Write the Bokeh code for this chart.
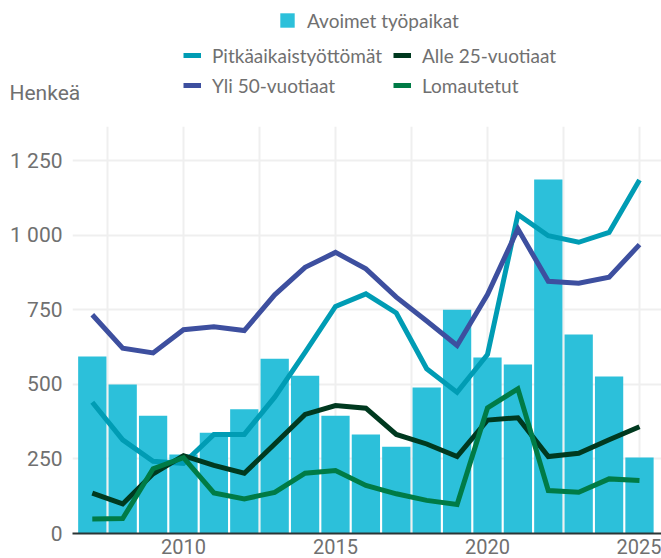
from bokeh.plotting import figure
from bokeh.models import Range1d, FixedTicker, Legend, LegendItem, Label
from bokeh.embed import file_html
from bokeh.resources import INLINE

# ---- data ----
years = list(range(2007, 2026))
avoimet = [593, 499, 395, 265, 338, 416, 586, 529, 395, 332, 291, 489, 750, 590, 566, 1186, 667, 526, 255]
pitka = [440, 314, 242, 235, 332, 332, 457, 607, 761, 803, 739, 552, 473, 600, 1069, 998, 976, 1009, 1185]
alle25 = [135, 99, 200, 261, 228, 202, 300, 399, 429, 420, 332, 300, 258, 380, 388, 258, 269, 314, 358]
yli50 = [733, 621, 605, 683, 693, 680, 800, 892, 942, 887, 792, 712, 630, 801, 1021, 845, 839, 859, 968]
loma = [49, 50, 217, 254, 136, 116, 138, 202, 211, 161, 133, 111, 97, 421, 485, 144, 138, 183, 178]

y_ticks = [0, 250, 500, 750, 1000, 1250]
y_tick_labels = ["0", "250", "500", "750", "1 000", "1 250"]
x_ticks = [2010, 2015, 2020, 2025]
x_tick_labels = ["2010", "2015", "2020", "2025"]
x_grid = [2007.5, 2010, 2012.5, 2015, 2017.5, 2020, 2022.5, 2025]

names = ["Avoimet työpaikat", "Pitkäaikaistyöttömät", "Alle 25-vuotiaat", "Yli 50-vuotiaat", "Lomautetut"]
y_label = "Henkeä"

C_BAR = "#2CC0DA"
C_PITKA = "#009CB4"
C_ALLE = "#00391F"
C_YLI = "#3D4F9F"
C_LOMA = "#007B46"
TXT = "#707070"
W = 661
HEAD_H = 126
MAIN_H = 558 - HEAD_H

series = [(pitka, C_PITKA), (alle25, C_ALLE), (yli50, C_YLI), (loma, C_LOMA)]
common = dict(line_width=5, line_join="miter")

# ---- main chart ----
p = figure(width=W, height=MAIN_H, output_backend="svg", toolbar_location=None,
           x_range=Range1d(2006.349, 2025.724), y_range=Range1d(0, 1364),
           min_border_left=72, min_border_right=0, min_border_top=0, min_border_bottom=25)
p.outline_line_color = None

p.vbar(x=years, top=avoimet, width=0.93, fill_color=C_BAR, line_color=None)
for vals, col in series:
    p.line(years, vals, line_color=col, **common)

p.xaxis.ticker = FixedTicker(ticks=x_ticks)
p.xaxis.major_label_overrides = dict(zip(x_ticks, x_tick_labels))
p.yaxis.ticker = FixedTicker(ticks=y_ticks)
p.yaxis.major_label_overrides = dict(zip(y_ticks, y_tick_labels))
for ax in (p.xaxis[0], p.yaxis[0]):
    ax.major_tick_line_color = None
    ax.minor_tick_line_color = None
    ax.major_tick_out = 0
    ax.major_tick_in = 0
    ax.minor_tick_out = 0
    ax.minor_tick_in = 0
    ax.major_label_text_font = "Roboto"
    ax.major_label_text_color = TXT
ax = p.xaxis[0]
ax.axis_line_color = "#2B3535"
ax.axis_line_width = 2
ax.major_label_text_font_size = "20px"
ax.major_label_standoff = 5
ay = p.yaxis[0]
ay.axis_line_color = None
ay.major_label_text_font_size = "21px"
ay.major_label_standoff = 10

p.xgrid.ticker = FixedTicker(ticks=x_grid)
p.xgrid.grid_line_color = "#EFEFEF"
p.xgrid.grid_line_width = 2
p.ygrid.grid_line_color = "#EFEFEF"
p.ygrid.grid_line_width = 2

# ---- header: legend and unit label (same data, outside the header's view) ----
h = figure(width=W, height=HEAD_H, output_backend="svg", toolbar_location=None,
           x_range=Range1d(0, W), y_range=Range1d(0, HEAD_H),
           x_axis_location=None, y_axis_location=None, min_border=0)
h.outline_line_color = None
h.xgrid.visible = False
h.ygrid.visible = False

hb = h.vbar(x=years, top=avoimet, width=0.93, fill_color=C_BAR, line_color=None)
proxies = [h.line(years, vals, line_color=col, **common) for vals, col in series]

leg_style = dict(label_text_font="Lato", label_text_font_size="19px", label_text_color=TXT,
                 glyph_width=18, glyph_height=18, label_standoff=11, spacing=7, padding=0,
                 margin=0, border_line_color=None, background_fill_alpha=0, label_height=18)

l1 = Legend(items=[LegendItem(label=names[0], renderers=[hb])], location=(278, 94.5), **leg_style)
l2 = Legend(items=[LegendItem(label=names[1], renderers=[proxies[0]]),
                   LegendItem(label=names[3], renderers=[proxies[2]])],
            location=(183, 29.5), **leg_style)
l3 = Legend(items=[LegendItem(label=names[2], renderers=[proxies[1]]),
                   LegendItem(label=names[4], renderers=[proxies[3]])],
            location=(393, 29.5), **leg_style)
for l in (l1, l2, l3):
    h.add_layout(l)

h.add_layout(Label(x=9, y=33.5, text=y_label, text_font="Roboto", text_font_size="21px",
                   text_color=TXT, text_baseline="alphabetic"))

open("out.html", "w").write(file_html([h, p], INLINE))
